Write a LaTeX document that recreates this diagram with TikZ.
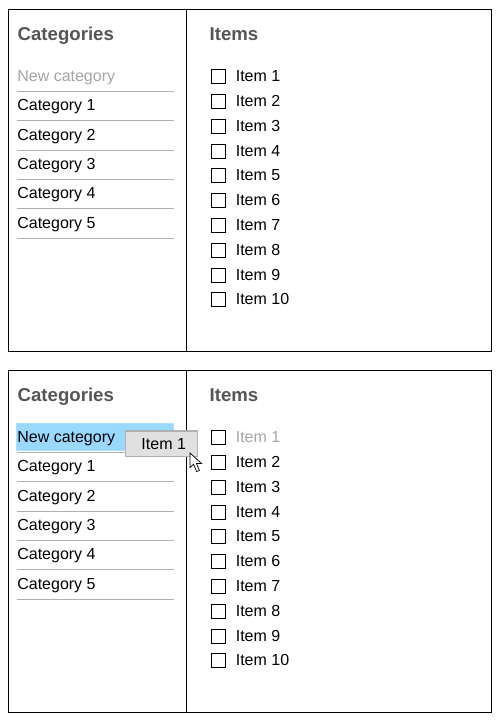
\documentclass[tikz,border=0pt]{standalone}
\usepackage{fontspec}
\setmainfont{Liberation Sans}
\usetikzlibrary{positioning,calc}
\definecolor{titlegray}{HTML}{555555}
\definecolor{hintgray}{HTML}{A6A6A6}
\definecolor{rulegray}{HTML}{B0B0B0}
\definecolor{dropblue}{HTML}{99D9FF}
\definecolor{dragfill}{HTML}{E0E0E0}
\tikzset{
  panel/.style={draw=black,line width=0.6pt,minimum width=9.66cm,minimum height=6.84cm,inner sep=0pt,anchor=north west},
  heading/.style={anchor=base west,inner sep=0pt,font=\fontsize{10.6pt}{12pt}\selectfont\bfseries,text=titlegray},
  entry/.style={anchor=base west,inner sep=0pt,font=\fontsize{9.1pt}{11pt}\selectfont},
  tick/.style={draw=black,line width=0.5pt,minimum size=0.28cm,inner sep=0pt,anchor=west},
  divider/.style={draw=rulegray,line width=0.5pt},
}
\begin{document}
\begin{tikzpicture}[x=0.02cm,y=-0.02cm]
  \useasboundingbox (0,0) rectangle (500,720);

  % drop target, under the lower panel
  \node (dropzone) at (94.75,437) [draw=dropblue!80!white,fill=dropblue,minimum width=3.13cm,minimum height=0.55cm,inner sep=0pt]{};

  \foreach \p/\off/\newc/\firstc in {a/0/hintgray/black,b/361/black/hintgray}{
    \node (panel\p) at (8,9+\off) [panel]{};
    \coordinate (top\p) at (186.3,9+\off);
    \coordinate (bot\p) at (186.3,351+\off);
    \draw[line width=0.6pt] (top\p) -- (bot\p);

    \node (cats\p) at (17.3,40+\off) [heading]{Categories};
    \node (items\p) at (209.3,40+\off) [heading]{Items};

    % category rows
    \node (new\p) at (17,81.5+\off) [entry,text=\newc]{New category};
    \coordinate (la\p0) at (17,91.3+\off);
    \coordinate (lb\p0) at (173.5,91.3+\off);
    \draw[divider] (la\p0) -- (lb\p0);
    \foreach \c/\y/\ly in {1/110.8/120.3,2/140.5/150.3,3/169.8/179.3,4/198.8/208.3,5/228.5/238}{
      \node (cat\p\c) at (17,\y+\off) [entry]{Category \c};
      \coordinate (la\p\c) at (17,\ly+\off);
      \coordinate (lb\p\c) at (173.5,\ly+\off);
      \draw[divider] (la\p\c) -- (lb\p\c);
    }

    % item rows
    \node (box\p1) at (211.3,76+\off) [tick]{};
    \node (item\p1) at (235.5,81.5+\off) [entry,text=\firstc]{Item 1};
    \foreach \i/\y in {2/101,3/126,4/151,5/175,6/200,7/225,8/250,9/275,10/299}{
      \node (box\p\i) at (211.3,\y+\off) [tick]{};
      \node (item\p\i) at (235.5,\y+5.5+\off) [entry]{Item \i};
    }
  }

  % dragged item and pointer
  \node (drag) at (161.5,443.75) [draw=rulegray,line width=0.6pt,fill=dragfill,minimum width=1.44cm,minimum height=0.51cm,inner sep=0pt,font=\fontsize{9.1pt}{11pt}\selectfont]{\hspace{2.5pt}Item 1};
  \draw[fill=white,line width=0.4pt,line join=miter] (190,453) -- (190,467.5) -- (193.6,464.2) -- (196.6,471.6) -- (199.4,470.4) -- (196.4,463.4) -- (201.4,463.4) -- cycle;
\end{tikzpicture}
\end{document}
